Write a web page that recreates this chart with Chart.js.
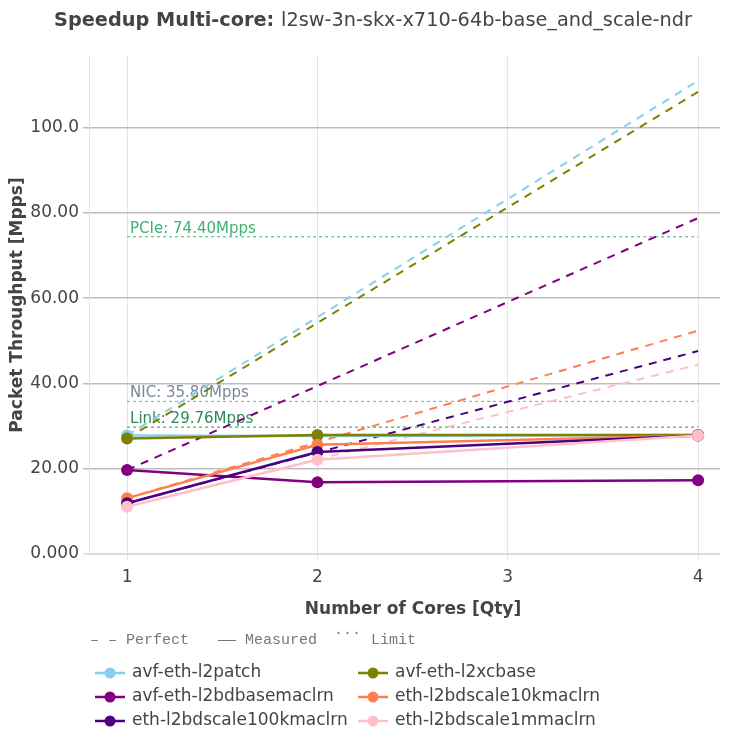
<!DOCTYPE html>
<html>
<head>
<meta charset="utf-8">
<script src="https://cdn.jsdelivr.net/npm/chart.js@4/dist/chart.umd.min.js"></script>
<style>
  html, body { margin: 0; padding: 0; background: #fff; }
  canvas { display: block; }
</style>
</head>
<body>
<canvas id="chart" width="730" height="733"></canvas>
<script>
// measured points are at 1, 2 and 4 cores
const cores = [1, 2, 4];
const perfectCores = [1, 4];
const xTicks = [1, 2, 3, 4];
const yTicks = [0, 20, 40, 60, 80, 100];

const seriesNames = [
    "avf-eth-l2patch", "avf-eth-l2xcbase", "avf-eth-l2bdbasemaclrn",
    "eth-l2bdscale10kmaclrn", "eth-l2bdscale100kmaclrn", "eth-l2bdscale1mmaclrn"
];
const seriesColors = ["#87ceeb", "#808000", "#800080", "#ff7f50", "#4b0082", "#ffc0cb"];

const l2patch = [27.8, 27.7, 27.9];
const l2xcbase = [27.1, 27.9, 27.9];
const l2bdbase = [19.7, 16.8, 17.3];
const scale10k = [13.1, 25.6, 27.8];
const scale100k = [11.9, 23.9, 27.8];
const scale1m = [11.1, 22.1, 27.8];

const l2patchPerfect = [27.8, 111.0];
const l2xcbasePerfect = [27.1, 108.4];
const l2bdbasePerfect = [19.7, 78.8];
const scale10kPerfect = [13.1, 52.4];
const scale100kPerfect = [11.9, 47.6];
const scale1mPerfect = [11.1, 44.4];

const limitNames = ["PCIe", "NIC", "Link"];
const limitValues = [74.40, 35.80, 29.76];
const limitColors = ["#3cb371", "#8a99a8", "#2e8b57"];
const limitTextColors = ["#3cb371", "#778899", "#2e8b57"];

const measured = [l2patch, l2xcbase, l2bdbase, scale10k, scale100k, scale1m];
const perfect = [l2patchPerfect, l2xcbasePerfect, l2bdbasePerfect, scale10kPerfect, scale100kPerfect, scale1mPerfect];

const font = "'DejaVu Sans', sans-serif";
const datasets = [];

measured.forEach((vals, i) => {
    datasets.push({
        label: seriesNames[i],
        data: cores.map((c, j) => ({ x: c, y: vals[j] })),
        borderColor: seriesColors[i],
        backgroundColor: seriesColors[i],
        borderWidth: 2.5,
        pointRadius: 6,
        pointBorderWidth: 0,
        order: 10 - i
    });
});
perfect.forEach((vals, i) => {
    datasets.push({
        label: seriesNames[i] + " perfect",
        data: perfectCores.map((c, j) => ({ x: c, y: vals[j] })),
        borderColor: seriesColors[i],
        borderWidth: 2,
        borderDash: [8, 7],
        pointRadius: 0,
        order: 20 - i
    });
});
limitValues.forEach((v, i) => {
    datasets.push({
        label: limitNames[i],
        data: [{ x: xTicks[0], y: v }, { x: xTicks[xTicks.length - 1], y: v }],
        borderColor: limitColors[i],
        borderWidth: 1,
        borderDash: [3, 3],
        pointRadius: 0,
        order: 30
    });
});

const textPlugin = {
    id: "texts",
    beforeDatasetsDraw(chart) {
        const ctx = chart.ctx;
        const x = chart.scales.x, y = chart.scales.y;
        ctx.save();
        ctx.font = "15px " + font;
        ctx.textAlign = "left";
        ctx.textBaseline = "alphabetic";
        limitValues.forEach((v, i) => {
            ctx.fillStyle = limitTextColors[i];
            ctx.fillText(limitNames[i] + ": " + v.toFixed(2) + "Mpps", x.getPixelForValue(1) + 3, y.getPixelForValue(v) - 4);
        });
        ctx.restore();
    },
    afterDraw(chart) {
        const ctx = chart.ctx;
        const area = chart.chartArea;
        ctx.save();
        ctx.fillStyle = "#444";
        ctx.textBaseline = "middle";

        // title
        const bold = "Speedup Multi-core: ";
        const rest = "l2sw-3n-skx-x710-64b-base_and_scale-ndr";
        ctx.font = "bold 19.3px " + font;
        const wb = ctx.measureText(bold).width;
        ctx.font = "19.3px " + font;
        const wr = ctx.measureText(rest).width;
        let tx = 373 - (wb + wr) / 2;
        ctx.textAlign = "left";
        ctx.font = "bold 19.3px " + font;
        ctx.fillText(bold, tx, 21);
        ctx.font = "19.3px " + font;
        ctx.fillText(rest, tx + wb, 21);

        // axis titles
        ctx.font = "bold 17px " + font;
        ctx.textAlign = "center";
        ctx.fillText("Number of Cores [Qty]", 413, 610);
        ctx.save();
        ctx.translate(18, (area.top + area.bottom) / 2);
        ctx.rotate(-Math.PI / 2);
        ctx.fillText("Packet Throughput [Mpps]", 0, 0);
        ctx.restore();

        // line style key
        ctx.textAlign = "left";
        ctx.fillStyle = "#777";
        ctx.font = "15px 'Liberation Mono', monospace";
        ctx.fillText("\u2013 \u2013 Perfect", 90, 640);
        ctx.fillText("\u2014\u2014 Measured", 218, 640);
        ctx.fillText("\u00b7\u00b7\u00b7", 334, 633);
        ctx.fillText("Limit", 371, 640);

        // series legend
        ctx.font = "17px " + font;
        const colX = [95, 358];
        const rowY = [673, 697, 721];
        seriesNames.forEach((name, i) => {
            const cx = colX[i % 2], cy = rowY[Math.floor(i / 2)];
            ctx.strokeStyle = seriesColors[i];
            ctx.lineWidth = 2.5;
            ctx.beginPath();
            ctx.moveTo(cx, cy);
            ctx.lineTo(cx + 30, cy);
            ctx.stroke();
            ctx.fillStyle = seriesColors[i];
            ctx.beginPath();
            ctx.arc(cx + 15, cy, 5.5, 0, Math.PI * 2);
            ctx.fill();
            ctx.fillStyle = "#444";
            ctx.fillText(name, cx + 37, cy);
        });
        ctx.restore();
    }
};

new Chart(document.getElementById("chart"), {
    type: "line",
    data: { datasets: datasets },
    options: {
        responsive: false,
        animation: false,
        layout: { padding: { top: 56, right: 10, left: 0, bottom: 0 } },
        plugins: { legend: { display: false }, tooltip: { enabled: false } },
        scales: {
            x: {
                type: "linear",
                min: 0.8,
                max: 4.115,
                afterBuildTicks: (scale) => { scale.ticks = xTicks.map(v => ({ value: v })); },
                afterFit: (scale) => { scale.height = 179; },
                grid: { color: "#e4e4e4", lineWidth: 1, tickLength: 6 },
                border: { color: "#dcdcdc" },
                ticks: { color: "#444", font: { family: font, size: 17 }, padding: 7, callback: (v) => String(v) }
            },
            y: {
                min: 0,
                max: 116.8,
                afterBuildTicks: (scale) => { scale.ticks = yTicks.map(v => ({ value: v })); },
                afterFit: (scale) => { scale.width = 89; },
                grid: {
                    color: (c) => c.tick && c.tick.value === 0 ? "#dcdcdc" : "#bdbdbd",
                    lineWidth: 1.5,
                    tickLength: 6
                },
                border: { color: "#e4e4e4" },
                ticks: { color: "#444", font: { family: font, size: 17 }, padding: 4, callback: (v) => Number(v).toPrecision(4) }
            }
        }
    },
    plugins: [textPlugin]
});
</script>
</body>
</html>
